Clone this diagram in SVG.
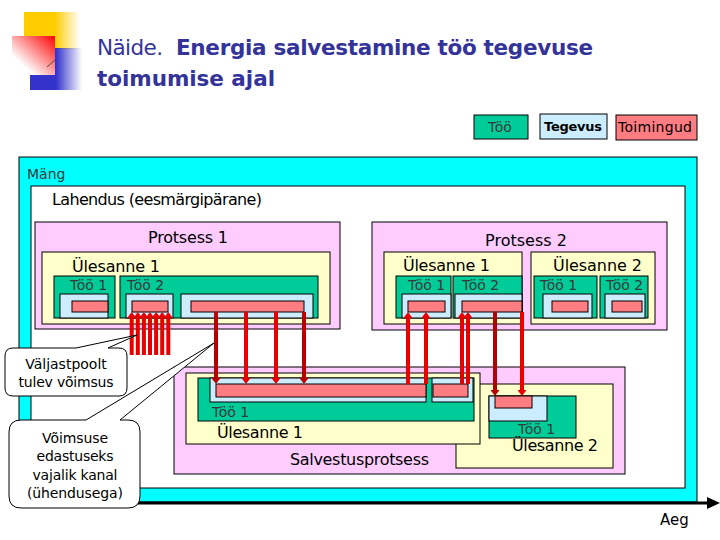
<svg xmlns="http://www.w3.org/2000/svg" width="720" height="540" viewBox="0 0 720 540">
<style>
.g{fill:#00CC99;stroke:#000;stroke-width:1}
.b{fill:#CCECFF;stroke:#000;stroke-width:1}
.r{fill:#FF7C80;stroke:#000;stroke-width:1}
.y{fill:#FFFFCC;stroke:#000;stroke-width:1}
.p{fill:#FFCCFF;stroke:#000;stroke-width:1}
text{font-family:"DejaVu Sans","Liberation Sans",sans-serif}
.lbl{font-size:16px;fill:#000}
.w{font-size:14px;fill:#383838}
.co{font-size:14px;fill:#000;text-anchor:middle}
.title{font-size:21.5px;fill:#333399}
.ar{stroke:#E60000;stroke-width:4;fill:none;marker-end:url(#hb)}
.ad{stroke:#B80000;stroke-width:4;fill:none;marker-end:url(#hd)}
</style>
<defs>
<marker id="hb" markerUnits="userSpaceOnUse" markerWidth="6" markerHeight="9" viewBox="0 0 6 9" refX="0" refY="4.5" orient="auto"><path d="M0,0 L6,4.5 L0,9 Z" fill="#E60000"/></marker>
<marker id="hd" markerUnits="userSpaceOnUse" markerWidth="6" markerHeight="9" viewBox="0 0 6 9" refX="0" refY="4.5" orient="auto"><path d="M0,0 L6,4.5 L0,9 Z" fill="#B80000"/></marker>
<linearGradient id="gy" x1="0" y1="0" x2="1" y2="0"><stop offset="0" stop-color="#FFCC00"/><stop offset="0.55" stop-color="#FFCC00"/><stop offset="1" stop-color="#FFCC00" stop-opacity="0"/></linearGradient>
<linearGradient id="gb" x1="0" y1="0" x2="1" y2="0"><stop offset="0" stop-color="#3333CC"/><stop offset="0.5" stop-color="#3333CC"/><stop offset="1" stop-color="#3333CC" stop-opacity="0"/></linearGradient>
<linearGradient id="gr" x1="1" y1="0" x2="0" y2="1"><stop offset="0" stop-color="#FF0000"/><stop offset="0.75" stop-color="#FFFFFF"/><stop offset="1" stop-color="#FFFFFF"/></linearGradient>
</defs>

<g id="logo">
<rect x="24" y="12" width="56" height="37" fill="url(#gy)"/>
<rect x="30" y="48" width="52" height="42" fill="url(#gb)"/>
<rect x="12" y="36" width="43" height="39" fill="url(#gr)"/>
<line x1="47" y1="67" x2="55" y2="60" stroke="#333" stroke-width="0.8"/>
</g>

<g id="title">
<text class="title" x="97" y="55" textLength="66">Näide.</text>
<text class="title" x="176" y="55" font-weight="bold" textLength="417">Energia salvestamine töö tegevuse</text>
<text class="title" x="97" y="86" font-weight="bold" textLength="178">toimumise ajal</text>
</g>

<g id="legend">
<rect class="g" x="474" y="115" width="54" height="24"/>
<text class="w" x="488" y="132">Töö</text>
<rect class="b" x="540" y="114" width="67" height="25"/>
<text x="544" y="131" font-size="13" font-weight="bold" textLength="58">Tegevus</text>
<rect class="r" x="616" y="115" width="81" height="25"/>
<text x="618" y="132" font-size="14" textLength="74">Toimingud</text>
</g>

<g id="mang">
<rect x="19" y="157" width="678" height="345" fill="#00FFFF" stroke="#000"/>
<text class="w" x="27" y="179">Mäng</text>
</g>

<g id="lahendus">
<rect x="31" y="186" width="654" height="302" fill="#FFFFFF" stroke="#000"/>
<text class="lbl" x="52" y="205" textLength="210">Lahendus (eesmärgipärane)</text>
</g>

<g id="protsess1">
<rect class="p" x="35" y="222" width="305" height="107"/>
<text class="lbl" x="148" y="243" textLength="80">Protsess 1</text>
<rect class="y" x="42" y="252" width="288" height="72"/>
<text class="lbl" x="72" y="272" textLength="88">Ülesanne 1</text>
<rect class="g" x="54" y="276" width="61" height="42"/>
<text class="w" x="70" y="290">Töö 1</text>
<rect class="b" x="60" y="294" width="48" height="24"/>
<rect class="r" x="72" y="301" width="36" height="11"/>
<rect class="g" x="120" y="276" width="198" height="42"/>
<text class="w" x="127" y="290">Töö 2</text>
<rect class="b" x="126" y="294" width="47" height="24"/>
<rect class="r" x="132" y="301" width="36" height="11"/>
<rect class="b" x="181" y="294" width="132" height="24"/>
<rect class="r" x="191" y="301" width="113" height="11"/>
</g>

<g id="protsess2">
<rect class="p" x="372" y="222" width="295" height="108"/>
<text class="lbl" x="485" y="246" textLength="82">Protsess 2</text>
<rect class="y" x="384" y="252" width="138" height="72"/>
<text class="lbl" x="403" y="271" textLength="87">Ülesanne 1</text>
<rect class="g" x="396" y="276" width="55" height="42"/>
<text class="w" x="408" y="290">Töö 1</text>
<rect class="b" x="402" y="294" width="49" height="24"/>
<rect class="r" x="408" y="301" width="37" height="11"/>
<rect class="g" x="453" y="276" width="69" height="42"/>
<text class="w" x="462" y="290">Töö 2</text>
<rect class="b" x="455" y="294" width="67" height="24"/>
<rect class="r" x="462" y="301" width="60" height="11"/>
<rect class="y" x="531" y="252" width="124" height="72"/>
<text class="lbl" x="553" y="271" textLength="89">Ülesanne 2</text>
<rect class="g" x="534" y="276" width="63" height="42"/>
<text class="w" x="540" y="290">Töö 1</text>
<rect class="b" x="543" y="294" width="49" height="24"/>
<rect class="r" x="552" y="301" width="36" height="11"/>
<rect class="g" x="600" y="276" width="48" height="42"/>
<text class="w" x="606" y="290">Töö 2</text>
<rect class="b" x="605" y="294" width="40" height="24"/>
<rect class="r" x="612" y="301" width="30" height="11"/>
</g>

<g id="salvestusprotsess">
<rect class="p" x="174" y="367" width="451" height="107"/>
<rect class="y" x="456" y="384" width="157" height="84"/>
<rect class="y" x="186" y="373" width="294" height="71"/>
<rect class="g" x="198" y="378" width="276" height="43"/>
<rect class="b" x="210" y="378" width="216" height="24"/>
<rect class="r" x="216" y="384" width="210" height="13"/>
<rect class="b" x="432" y="378" width="41" height="24"/>
<rect class="r" x="433" y="384" width="35" height="13"/>
<text class="w" x="212" y="417">Töö 1</text>
<text class="lbl" x="217" y="438" textLength="86">Ülesanne 1</text>
<text class="lbl" x="290" y="465" textLength="139">Salvestusprotsess</text>
<rect class="g" x="489" y="396" width="87" height="42"/>
<rect class="b" x="489" y="396" width="58" height="25"/>
<rect class="r" x="495" y="396" width="37" height="12"/>
<text class="w" x="518" y="434">Töö 1</text>
<text class="lbl" x="512" y="451" textLength="86">Ülesanne 2</text>
</g>

<g id="connectors">
<line class="ar" x1="131.7" y1="355" x2="131.7" y2="318"/>
<line class="ar" x1="137.8" y1="355" x2="137.8" y2="318"/>
<line class="ar" x1="143.9" y1="355" x2="143.9" y2="318"/>
<line class="ar" x1="150" y1="355" x2="150" y2="318"/>
<line class="ar" x1="156.1" y1="355" x2="156.1" y2="318"/>
<line class="ar" x1="162.2" y1="355" x2="162.2" y2="318"/>
<line class="ar" x1="168.3" y1="355" x2="168.3" y2="318"/>
<line class="ad" x1="216" y1="312" x2="216" y2="378"/>
<line class="ar" x1="246" y1="312" x2="246" y2="378"/>
<line class="ar" x1="276" y1="312" x2="276" y2="378"/>
<line class="ad" x1="304" y1="312" x2="304" y2="378"/>
<line class="ar" x1="408" y1="384" x2="408" y2="318"/>
<line class="ar" x1="426" y1="384" x2="426" y2="318"/>
<line class="ar" x1="462" y1="384" x2="462" y2="318"/>
<line class="ar" x1="468" y1="384" x2="468" y2="318"/>
<line class="ad" x1="495" y1="312" x2="495" y2="390"/>
<line class="ar" x1="522" y1="312" x2="522" y2="390"/>
</g>

<g id="aeg">
<line x1="130" y1="503" x2="710" y2="503" stroke="#000" stroke-width="3"/>
<polygon points="707,497 720,503 707,509" fill="#000"/>
<text x="660" y="525" font-size="15" fill="#000">Aeg</text>
</g>

<g id="callout1">
<path d="M13,348 H76 L137,335 L108,348 H119 Q127,348 127,356 V388 Q127,396 119,396 H13 Q5,396 5,388 V356 Q5,348 13,348 Z" fill="#FFFFFF" stroke="#000"/>
<text class="co" x="66" y="369">Väljastpoolt</text>
<text class="co" x="66" y="387" textLength="95">tulev võimsus</text>
</g>

<g id="callout2">
<path d="M21,420 H86 L214,343 L120,420 H128 Q140,420 140,432 V496 Q140,508 128,508 H21 Q9,508 9,496 V432 Q9,420 21,420 Z" fill="#FFFFFF" stroke="#000"/>
<text class="co" x="75" y="443" textLength="66">Võimsuse</text>
<text class="co" x="75" y="461" textLength="77">edastuseks</text>
<text class="co" x="75" y="480" textLength="85">vajalik kanal</text>
<text class="co" x="75" y="498" textLength="96">(ühendusega)</text>
</g>
</svg>
